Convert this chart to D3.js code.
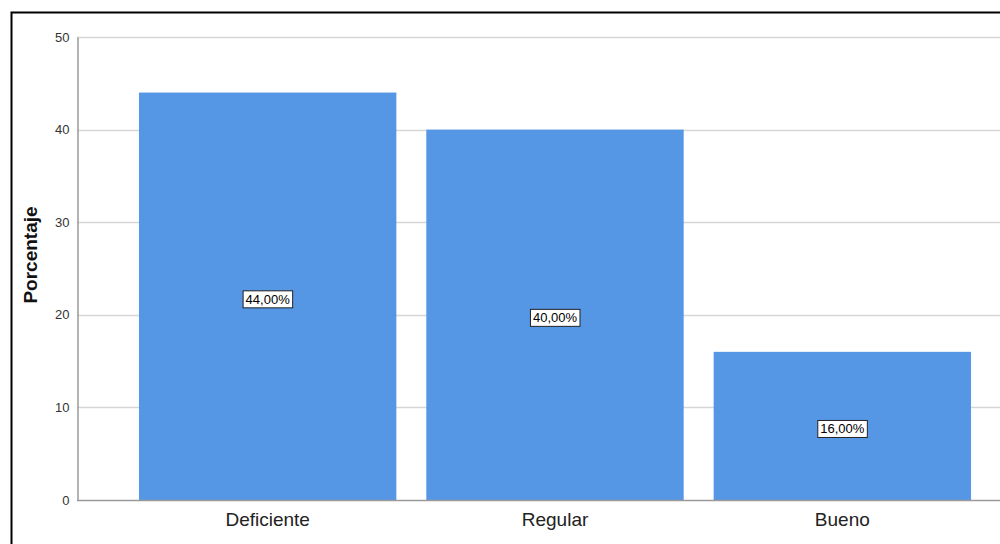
<!DOCTYPE html>
<html>
<head>
<meta charset="utf-8">
<script src="https://cdn.jsdelivr.net/npm/d3@7"></script>
<style>
  html, body { margin: 0; padding: 0; background: #fff; }
  svg { display: block; font-family: Arial, "Liberation Sans", sans-serif; }
</style>
</head>
<body>
<svg id="chart" width="1000" height="544"></svg>
<script>
// Category labels and percentage values
const categories = ["Deficiente", "Regular", "Bueno"];
const values = [44, 40, 16];
const barLabels = ["44,00%", "40,00%", "16,00%"];
const yTicks = [0, 10, 20, 30, 40, 50];

const svg = d3.select("#chart");

// Outer frame (left and top edges visible)
svg.append("path")
  .attr("d", "M11.5,544 V12.5 H1000")
  .attr("fill", "none")
  .attr("stroke", "#000")
  .attr("stroke-width", 2);

const y = d3.scaleLinear().domain([0, 50]).range([500, 37]);
const x = d3.scaleBand()
  .domain(categories)
  .range([77, 1033])
  .paddingInner(0.1043)
  .paddingOuter(0.2157);

// Horizontal gridlines
svg.append("g")
  .selectAll("line")
  .data(yTicks.filter(d => d > 0))
  .join("line")
  .attr("x1", 77).attr("x2", 1000)
  .attr("y1", d => Math.round(y(d)) + 0.5)
  .attr("y2", d => Math.round(y(d)) + 0.5)
  .attr("stroke", "#d6d6d6")
  .attr("stroke-width", 1.5);

// Bars
svg.append("g")
  .selectAll("rect")
  .data(values)
  .join("rect")
  .attr("x", (d, i) => x(categories[i]))
  .attr("width", x.bandwidth())
  .attr("y", d => y(d))
  .attr("height", d => y(0) - y(d))
  .attr("fill", "#5596e5");

// Y axis
const yAxis = d3.axisLeft(y).tickValues(yTicks).tickSize(0).tickPadding(8);
const gy = svg.append("g").attr("transform", "translate(77.5,0)").call(yAxis);
gy.select(".domain").attr("stroke", "#9a9a9a").attr("stroke-width", 1.5);
gy.selectAll("text").attr("font-size", 13).attr("fill", "#333");

// X axis
const xAxis = d3.axisBottom(x).tickSize(0).tickPadding(12);
const gx = svg.append("g").attr("transform", "translate(0,500.5)").call(xAxis);
gx.select(".domain").attr("d", "M77,0H1000").attr("stroke", "#9a9a9a").attr("stroke-width", 1.5);
gx.selectAll("text").attr("font-size", 19).attr("fill", "#222");

// Y axis title
svg.append("text")
  .attr("transform", "translate(37,255) rotate(-90)")
  .attr("text-anchor", "middle")
  .attr("font-size", 19)
  .attr("font-weight", "bold")
  .attr("fill", "#111")
  .text("Porcentaje");

// Value labels in boxes at bar mid-height
const lbl = svg.append("g")
  .selectAll("g")
  .data(values)
  .join("g")
  .attr("transform", (d, i) =>
    `translate(${x(categories[i]) + x.bandwidth() / 2},${y(d / 2) + 3})`);

lbl.append("text")
  .attr("text-anchor", "middle")
  .attr("dy", "0.35em")
  .attr("font-size", 13)
  .attr("fill", "#000")
  .text((d, i) => barLabels[i]);

lbl.each(function () {
  const g = d3.select(this);
  const bb = g.select("text").node().getBBox();
  g.insert("rect", "text")
    .attr("x", bb.x - 2.5)
    .attr("y", bb.y - 1)
    .attr("width", bb.width + 5)
    .attr("height", bb.height + 2)
    .attr("fill", "#fff")
    .attr("stroke", "#222")
    .attr("stroke-width", 1);
});
</script>
</body>
</html>
